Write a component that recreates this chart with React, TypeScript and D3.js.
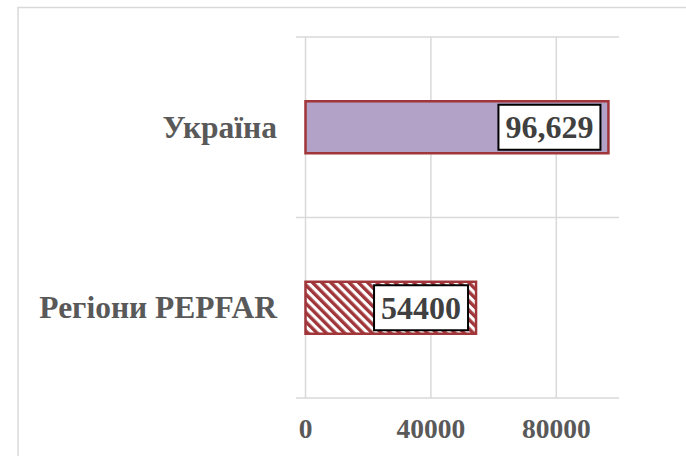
import React, { useEffect, useRef } from 'react';
import * as d3 from 'd3';

const categories = ['Україна', 'Регіони PEPFAR'];
const values = [96629, 54400];
const valueLabels = ['96,629', '54400'];
const xTicks = [0, 40000, 80000];

const App = () => {
  const ref = useRef<SVGSVGElement | null>(null);

  useEffect(() => {
    if (!ref.current) return;
    const svg = d3.select(ref.current);
    svg.selectAll('*').remove();

    const width = 686;
    const height = 456;
    const plot = { left: 305.5, right: 619, top: 37, bottom: 398 };
    const font = '"Liberation Serif", "Times New Roman", serif';
    const grid = '#D9D9D9';

    svg.append('rect').attr('width', width).attr('height', height).attr('fill', '#fff');

    // outer chart frame (runs off the right/bottom edge)
    svg.append('rect')
      .attr('x', 18).attr('y', 7.5)
      .attr('width', 700).attr('height', 480)
      .attr('fill', 'none').attr('stroke', grid).attr('stroke-width', 1.5);

    // hatch pattern for the PEPFAR bar
    const defs = svg.append('defs');
    const pat = defs.append('pattern')
      .attr('id', 'hatch')
      .attr('patternUnits', 'userSpaceOnUse')
      .attr('width', 6.5).attr('height', 6.5)
      .attr('patternTransform', 'rotate(-45)');
    pat.append('rect').attr('width', 6.5).attr('height', 6.5).attr('fill', '#fff');
    pat.append('rect').attr('width', 3.4).attr('height', 6.5).attr('fill', '#A0363A');

    const x = d3.scaleLinear().domain([0, 100000]).range([plot.left, plot.right]);
    const y = d3.scaleBand<string>()
      .domain(categories)
      .range([plot.top, plot.bottom])
      .paddingInner(0.712)
      .paddingOuter(0.356);
    const step = y.step();

    // vertical gridlines
    svg.append('g').selectAll('line').data(xTicks).join('line')
      .attr('x1', (d) => x(d)).attr('x2', (d) => x(d))
      .attr('y1', plot.top).attr('y2', plot.bottom)
      .attr('stroke', grid).attr('stroke-width', 1.5);

    // category separators / ticks
    const seps = d3.range(categories.length + 1).map((i) => plot.top + i * step);
    svg.append('g').selectAll('line').data(seps).join('line')
      .attr('x1', plot.left - 9.5).attr('x2', plot.right)
      .attr('y1', (d) => d).attr('y2', (d) => d)
      .attr('stroke', grid).attr('stroke-width', 1.5);

    // x tick labels
    svg.append('g').selectAll('text').data(xTicks).join('text')
      .attr('x', (d) => x(d)).attr('y', 438)
      .attr('text-anchor', 'middle')
      .attr('font-family', font).attr('font-weight', 'bold')
      .attr('font-size', 27.5).attr('fill', '#595959')
      .text((d) => String(d));

    // category labels
    svg.append('g').selectAll('text').data(categories).join('text')
      .attr('x', 277)
      .attr('y', (d) => (y(d) as number) + y.bandwidth() / 2)
      .attr('dy', '0.34em')
      .attr('text-anchor', 'end')
      .attr('font-family', font).attr('font-weight', 'bold')
      .attr('font-size', 31.5).attr('fill', '#595959')
      .text((d) => d);

    // bars
    const data = categories.map((c, i) => ({ c, v: values[i], label: valueLabels[i], i }));
    svg.append('g').selectAll('rect').data(data).join('rect')
      .attr('x', x(0))
      .attr('y', (d) => y(d.c) as number)
      .attr('width', (d) => x(d.v) - x(0))
      .attr('height', y.bandwidth())
      .attr('fill', (d) => (d.i === 0 ? '#B3A2C7' : 'url(#hatch)'))
      .attr('stroke', '#A0363A').attr('stroke-width', 2.5);

    // value labels with boxes
    const lg = svg.append('g');
    data.forEach((d) => {
      const cy = (y(d.c) as number) + y.bandwidth() / 2;
      const boxRight = x(d.v) - 8;
      const t = lg.append('text')
        .attr('x', boxRight - 7).attr('y', cy)
        .attr('dy', '0.35em')
        .attr('text-anchor', 'end')
        .attr('font-family', font).attr('font-weight', 'bold')
        .attr('font-size', 32).attr('fill', '#404040')
        .text(d.label);
      const w = (t.node() as SVGTextElement).getComputedTextLength();
      lg.insert('rect', 'text')
        .attr('x', boxRight - w - 14).attr('y', cy - 22.5)
        .attr('width', w + 14).attr('height', 45)
        .attr('fill', '#fff').attr('stroke', '#000').attr('stroke-width', 2);
    });
  }, []);

  return (
    <svg
      ref={ref}
      width={686}
      height={456}
      style={{ position: 'absolute', left: 0, top: 0 }}
    />
  );
};

export default App;
